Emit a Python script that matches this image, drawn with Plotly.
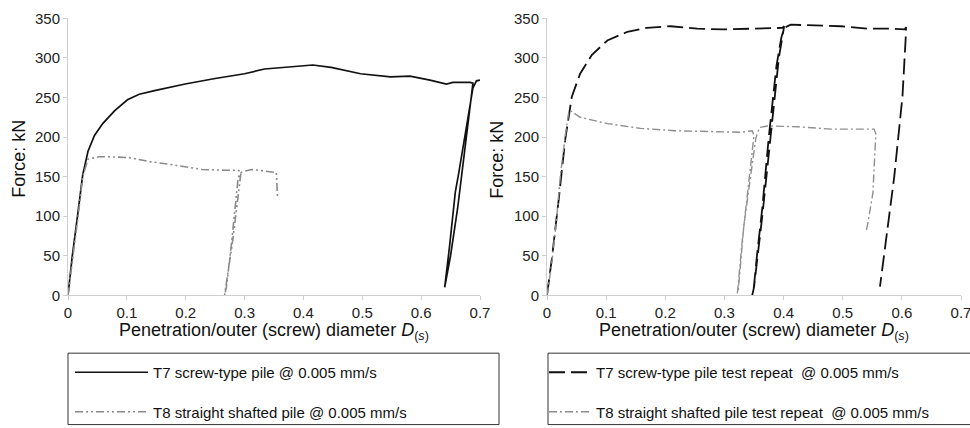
import plotly.graph_objects as go

# ---------------- data ----------------
# Left panel: T7 screw-type pile @ 0.005 mm/s
t7_x = [0, 0.007, 0.017, 0.025, 0.034, 0.045, 0.059, 0.079, 0.101, 0.121, 0.149, 0.199,
        0.25, 0.30, 0.334, 0.379, 0.416, 0.447, 0.497, 0.548, 0.581, 0.615, 0.643, 0.654,
        0.683, 0.688, 0.675, 0.662, 0.650, 0.640, 0.648, 0.658, 0.664, 0.676, 0.688, 0.694, 0.70]
t7_y = [0, 48, 105, 152, 182, 202, 217, 233, 247, 254, 259, 267,
        274, 280, 286, 289, 291, 288, 280, 276, 277, 272, 267, 269,
        269, 268, 190, 110, 50, 10, 60, 130, 155, 210, 262, 271, 272]

# Left panel: T8 straight shafted pile @ 0.005 mm/s
t8_x = [0, 0.008, 0.018, 0.025, 0.034, 0.053, 0.07, 0.104, 0.138, 0.177, 0.228, 0.267,
        0.289, 0.294, 0.287, 0.280, 0.272, 0.266, 0.269, 0.277, 0.284, 0.289, 0.293, 0.30,
        0.312, 0.334, 0.354, 0.356]
t8_y = [0, 45, 105, 150, 172, 175, 175, 174, 169, 165, 159, 158,
        158, 156, 110, 70, 30, 0, 10, 60, 115, 148, 155, 157,
        159, 157, 155, 123]

# Right panel: T7 screw-type pile test repeat @ 0.005 mm/s
t7r_x = [0, 0.0085, 0.0198, 0.031, 0.042, 0.056, 0.076, 0.102, 0.136, 0.169, 0.209, 0.254,
         0.299, 0.339, 0.378, 0.398, 0.401, 0.392, 0.378, 0.364, 0.350, 0.347, 0.349, 0.355,
         0.364, 0.375, 0.388, 0.396, 0.401, 0.412, 0.452, 0.497, 0.542, 0.582, 0.605, 0.607,
         0.607, 0.601, 0.587, 0.573, 0.563]
t7r_y = [0, 48, 121, 198, 251, 280, 304, 322, 333, 338, 340, 337,
         336, 337, 338, 338, 340, 300, 200, 100, 10, 0, 5, 50,
         110, 200, 290, 325, 338, 342, 341, 340, 337, 337, 336, 339,
         332, 251, 149, 68, 11]

# Right panel: T8 straight shafted pile test repeat @ 0.005 mm/s
t8r_x = [0, 0.008, 0.016, 0.023, 0.031, 0.037, 0.04, 0.056, 0.102, 0.158, 0.215, 0.282,
         0.328, 0.347, 0.350, 0.339, 0.330, 0.322, 0.323, 0.333, 0.344, 0.353, 0.359, 0.373,
         0.424, 0.48, 0.536, 0.553, 0.556, 0.551, 0.542, 0.540]
t8r_y = [0, 40, 95, 154, 202, 233, 233, 225, 217, 211, 208, 207,
         206, 208, 202, 129, 68, 3, 3, 89, 146, 198, 212, 214,
         213, 210, 210, 210, 204, 129, 89, 82]

x_ticks = [0, 0.1, 0.2, 0.3, 0.4, 0.5, 0.6, 0.7]
y_ticks = [0, 50, 100, 150, 200, 250, 300, 350]

names = ["T7 screw-type pile @ 0.005 mm/s",
         "T8 straight shafted pile @ 0.005 mm/s",
         "T7 screw-type pile test repeat  @ 0.005 mm/s",
         "T8 straight shafted pile test repeat  @ 0.005 mm/s"]

# ---------------- figure ----------------
W, H = 970, 428
FONT = "Arial, 'Liberation Sans', sans-serif"

fig = go.Figure()
fig.add_trace(go.Scatter(x=t7_x, y=t7_y, mode="lines", name=names[0],
                         line=dict(color="#111111", width=1.7),
                         xaxis="x", yaxis="y", legend="legend", legendgroup="a"))
fig.add_trace(go.Scatter(x=t8_x, y=t8_y, mode="lines", name=names[1],
                         line=dict(color="#8a8a8a", width=1.6, dash="8px,3px,2px,3px,2px,3px"),
                         xaxis="x", yaxis="y", legend="legend", legendgroup="b"))
fig.add_trace(go.Scatter(x=t7r_x, y=t7r_y, mode="lines", name=names[2],
                         line=dict(color="#111111", width=1.8, dash="16px,6px"),
                         xaxis="x2", yaxis="y2", legend="legend2", legendgroup="c"))
fig.add_trace(go.Scatter(x=t8r_x, y=t8r_y, mode="lines", name=names[3],
                         line=dict(color="#8f8f8f", width=1.4, dash="8px,3px,2px,3px"),
                         xaxis="x2", yaxis="y2", legend="legend2", legendgroup="d"))

def px_x(p):
    return p / W

def px_y(p):
    return 1 - p / H

axis_common = dict(showgrid=False, zeroline=False, showline=True, linecolor="#cfcfcf",
                   linewidth=1, ticks="outside", ticklen=4, tickcolor="#cfcfcf",
                   ticklabeloverflow="allow",
                   tickfont=dict(family=FONT, size=15, color="#222222"))

ydom = [px_y(306), px_y(19)]
fig.update_layout(
    width=W, height=H,
    margin=dict(l=0, r=0, t=0, b=0),
    paper_bgcolor="white", plot_bgcolor="white",
    font=dict(family=FONT, color="#111111"),
    xaxis=dict(domain=[px_x(68), px_x(480)], range=[0, 0.7], tickvals=x_ticks,
               ticktext=[str(v) for v in x_ticks], anchor="y", automargin=False, **axis_common),
    yaxis=dict(domain=ydom, range=[0, 350], tickvals=y_ticks, anchor="x",
               automargin=False, **axis_common),
    xaxis2=dict(domain=[px_x(547), px_x(961)], range=[0, 0.7], tickvals=x_ticks,
                ticktext=[str(v) for v in x_ticks], anchor="y2", automargin=False, **axis_common),
    yaxis2=dict(domain=ydom, range=[0, 350], tickvals=y_ticks, anchor="x2",
                automargin=False, **axis_common),
    legend=dict(x=px_x(70), y=px_y(369), xanchor="left", yanchor="top",
                bgcolor="rgba(0,0,0,0)", borderwidth=0, tracegroupgap=17, itemwidth=73,
                font=dict(family=FONT, size=15, color="#111111")),
    legend2=dict(x=px_x(544), y=px_y(369), xanchor="left", yanchor="top",
                 bgcolor="rgba(0,0,0,0)", borderwidth=0, tracegroupgap=17, itemwidth=42,
                 font=dict(family=FONT, size=15, color="#111111")),
    showlegend=True,
)

# legend boxes
fig.add_shape(type="rect", xref="paper", yref="paper",
              x0=px_x(68), x1=px_x(499), y0=px_y(440), y1=px_y(366),
              line=dict(color="#333333", width=1), fillcolor="rgba(0,0,0,0)", layer="below")
fig.add_shape(type="rect", xref="paper", yref="paper",
              x0=px_x(548), x1=px_x(990), y0=px_y(440), y1=px_y(366),
              line=dict(color="#333333", width=1), fillcolor="rgba(0,0,0,0)", layer="below")

# axis titles
xtitle = "Penetration/outer (screw) diameter <i>D</i><sub>(<i>s</i>)</sub>"
for cx in (274, 754):
    fig.add_annotation(text=xtitle, xref="paper", yref="paper", x=px_x(cx), y=px_y(344),
                       xanchor="center", yanchor="middle", showarrow=False,
                       font=dict(family=FONT, size=18, color="#111111"))
for cx in (19.5, 497.5):
    fig.add_annotation(text="Force: kN", xref="paper", yref="paper", x=px_x(cx), y=px_y(165),
                       xanchor="center", yanchor="middle", showarrow=False, textangle=-90,
                       font=dict(family=FONT, size=18, color="#111111"))

fig.write_html("out.html")
